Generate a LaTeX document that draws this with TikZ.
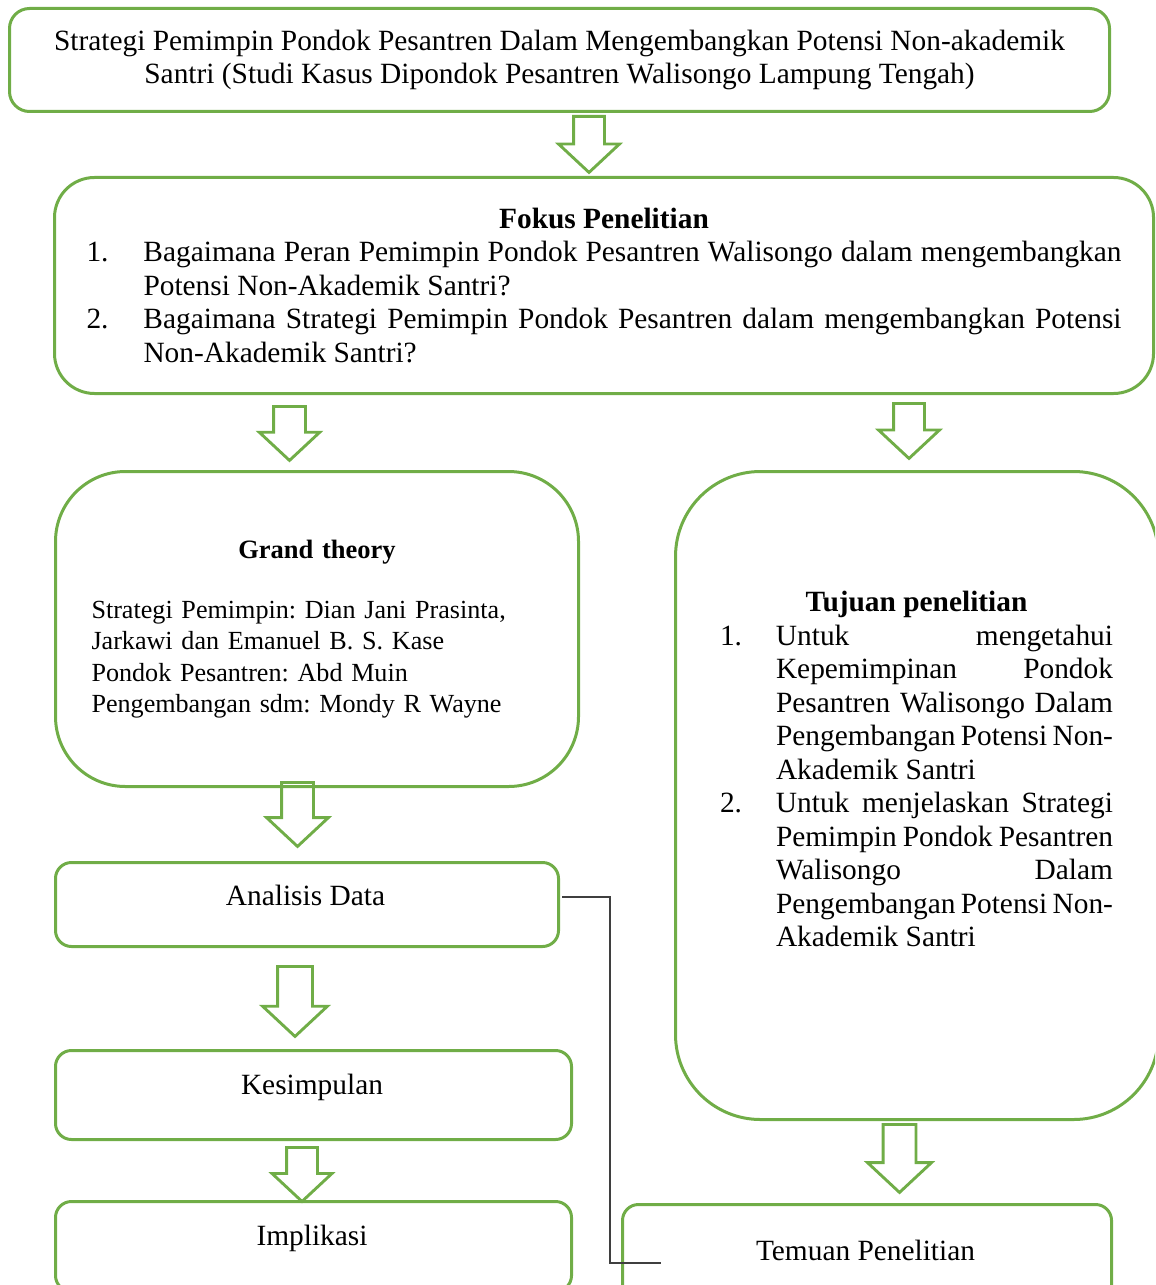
\documentclass[tikz,border=0pt]{standalone}
\usepackage{fontspec}
\setmainfont{Liberation Serif}
\usetikzlibrary{shapes.arrows}

\definecolor{boxgreen}{HTML}{70AD47}
\definecolor{linegray}{HTML}{3F3F3F}

\begin{document}
\begin{tikzpicture}[x=0.4pt, y=-0.4pt,
  font=\fontsize{11.75}{13.4}\selectfont\frenchspacing,
  box/.style={draw=boxgreen, line width=1.2pt, anchor=north west, inner sep=0pt},
  blockarrow/.style={single arrow, draw=boxgreen, line width=1.15pt,
    shape border rotate=270, single arrow tip angle=94, anchor=tail},
  lbl/.style={anchor=base, inner sep=0pt},
  connector/.style={draw=linegray, line width=0.5pt}]
  \useasboundingbox (0,0) rectangle (1155,1285);
  \clip (0,0) rectangle (1155,1285);

  % judul
  \node[box, rounded corners=8pt, minimum width=440pt, minimum height=41.2pt, align=center] (judul) at (8,7)
    {Strategi Pemimpin Pondok Pesantren Dalam Mengembangkan Potensi Non-akademik\\
     Santri (Studi Kasus Dipondok Pesantren Walisongo Lampung Tengah)};

  % fokus penelitian
  \node[box, rounded corners=16pt, minimum height=86.4pt, text width=414pt, inner xsep=12.8pt,
    align=justify] (fokus) at (53,176) {\hyphenpenalty=10000
    \centerline{\textbf{Fokus Penelitian}}\par
    \hangindent=22.8pt\hangafter=1\noindent\makebox[22.8pt][l]{1.}Bagaimana~Peran~Pemimpin~Pondok~Pesantren~Walisongo~dalam~mengembangkan\linebreak Potensi Non-Akademik Santri?\par
    \hangindent=22.8pt\hangafter=1\noindent\makebox[22.8pt][l]{2.}Bagaimana~Strategi~Pemimpin~Pondok~Pesantren~dalam~mengembangkan~Potensi\linebreak Non-Akademik Santri?\par};

  % grand theory
  \node[box, rounded corners=28pt, minimum width=209.2pt, minimum height=126pt, text width=180.4pt,
    inner xsep=14.4pt, align=left, font=\fontsize{10.45}{12.5}\selectfont] (grand) at (54,470)
    {\centerline{\fontsize{10.6}{12.5}\selectfont\textbf{Grand theory}}\par\vspace{11.5pt}
     Strategi~Pemimpin:~Dian~Jani~Prasinta,\\ Jarkawi~dan~Emanuel~B.~S.~Kase\\
     Pondok~Pesantren:~Abd~Muin\\ Pengembangan~sdm:~Mondy~R~Wayne};

  % tujuan penelitian
  \node[box, rounded corners=34pt, minimum width=193.2pt, minimum height=259.2pt] (tujuan) at (674,470) {};
  \node[inner sep=0pt, text width=157.2pt, align=justify] (tujuanteks) at (916.5,769) {\hyphenpenalty=10000
    \centerline{\textbf{Tujuan penelitian}}\par
    \hangindent=22.4pt\hangafter=1\noindent\makebox[22.4pt][l]{1.}Untuk~mengetahui\linebreak Kepemimpinan~Pondok\linebreak Pesantren~Walisongo~Dalam\linebreak Pengembangan~Potensi~Non-\linebreak Akademik~Santri\par
    \hangindent=22.4pt\hangafter=1\noindent\makebox[22.4pt][l]{2.}Untuk~menjelaskan~Strategi\linebreak Pemimpin~Pondok~Pesantren\linebreak Walisongo~Dalam\linebreak Pengembangan~Potensi~Non-\linebreak Akademik~Santri\par};

  % kotak bawah
  \node[box, rounded corners=6.4pt, minimum width=201.2pt, minimum height=33.6pt] (analisis) at (54,861) {};
  \node[lbl] (analisisteks) at (305.5,905) {Analisis Data};
  \node[box, rounded corners=6.4pt, minimum width=206.4pt, minimum height=35.6pt] (kesimpulan) at (54,1049) {};
  \node[lbl] (kesimpulanteks) at (312,1094) {Kesimpulan};
  \node[box, rounded corners=6.4pt, minimum width=206.4pt, minimum height=36pt] (implikasi) at (54,1200) {};
  \node[lbl] (implikasiteks) at (312,1245) {Implikasi};
  \node[box, rounded corners=6.4pt, minimum width=195.6pt, minimum height=40pt] (temuan) at (621,1203) {};
  \node[lbl] (temuanteks) at (865.5,1260) {Temuan Penelitian};

  % panah
  \node[blockarrow, minimum height=22.4pt, inner sep=5.6pt, single arrow head extend=6pt] (panahA) at (589,115) {};
  \node[blockarrow, minimum height=21.6pt, inner sep=5.8pt, single arrow head extend=5.7pt] (panahB) at (289.5,405) {};
  \node[blockarrow, minimum height=22pt, inner sep=5.6pt, single arrow head extend=6pt] (panahC) at (909,402) {};
  \node[blockarrow, minimum height=25.6pt, inner sep=5.8pt, single arrow head extend=6pt] (panahD) at (297.5,781) {};
  \node[blockarrow, minimum height=28pt, inner sep=6.4pt, single arrow head extend=6pt] (panahE) at (295,965) {};
  \node[blockarrow, minimum height=21.6pt, inner sep=5.6pt, single arrow head extend=5.8pt] (panahF) at (302,1146) {};
  \node[blockarrow, minimum height=27.2pt, inner sep=6pt, single arrow head extend=6.2pt] (panahG) at (899.5,1123) {};

  % garis analisis ke temuan
  \coordinate (garisA) at (562,897);
  \coordinate (garisB) at (661,1263);
  \path[connector] (garisA) -- ++(48,0) |- (garisB);
\end{tikzpicture}
\end{document}
